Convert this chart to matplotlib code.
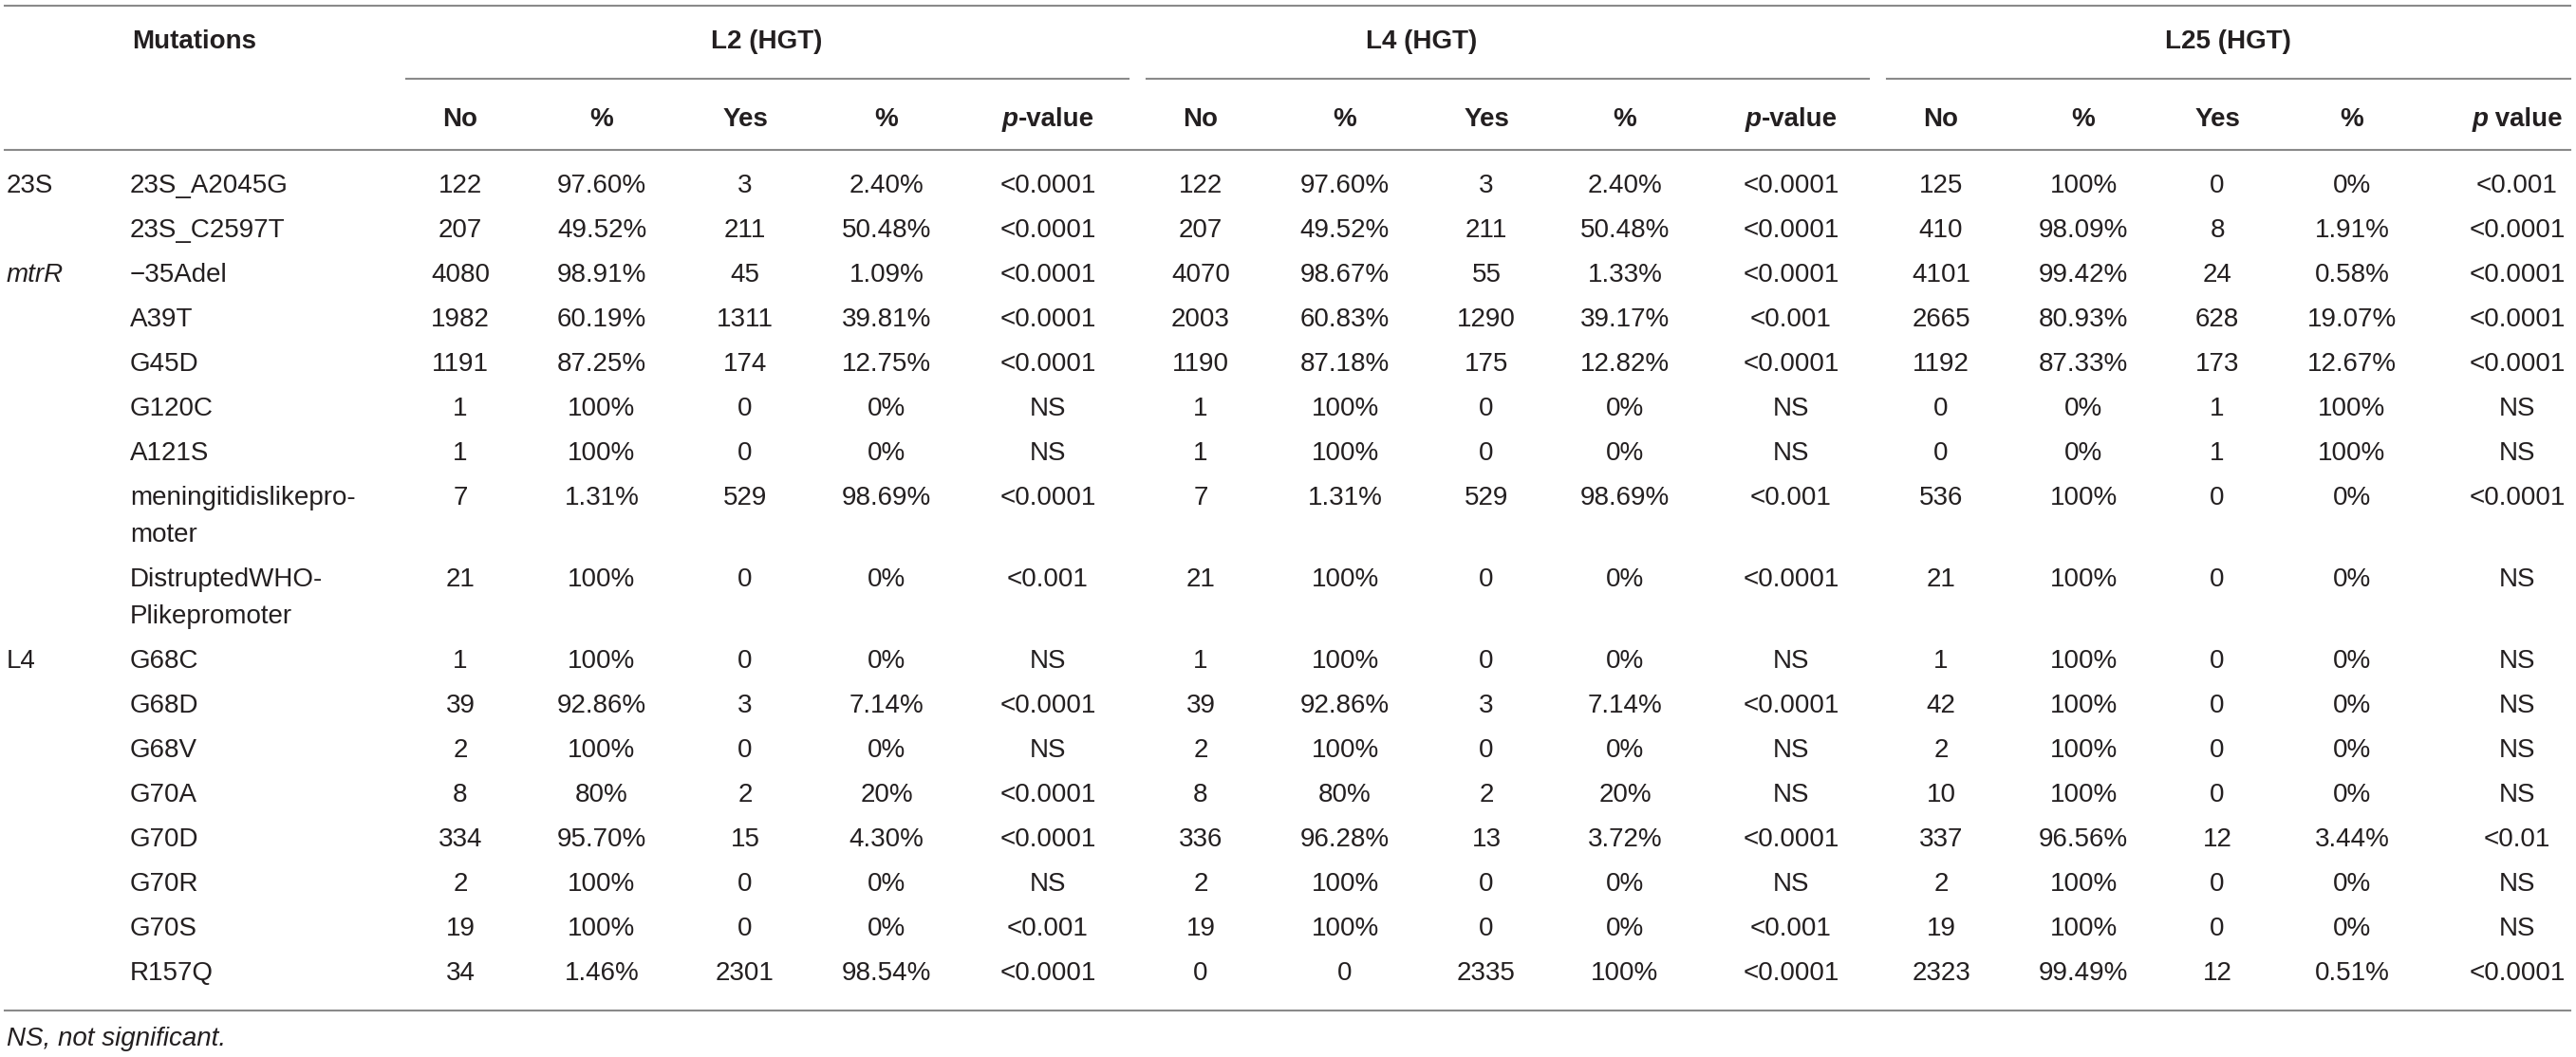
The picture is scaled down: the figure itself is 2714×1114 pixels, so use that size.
import matplotlib
matplotlib.use("Agg")
import matplotlib.pyplot as plt

# ---- table data ----
genes = ["23S", "", "mtrR", "", "", "", "", "", "", "L4", "", "", "", "", "", "", ""]
mutations = ["23S_A2045G", "23S_C2597T", "\u221235Adel", "A39T", "G45D", "G120C", "A121S",
             "meningitidislikepro-\nmoter", "DistruptedWHO-\nPlikepromoter",
             "G68C", "G68D", "G68V", "G70A", "G70D", "G70R", "G70S", "R157Q"]

groups = ["L2 (HGT)", "L4 (HGT)", "L25 (HGT)"]
sub_cols = ["No", "%", "Yes", "%", "p-value"]

l2_no = ["122", "207", "4080", "1982", "1191", "1", "1", "7", "21", "1", "39", "2", "8", "334", "2", "19", "34"]
l2_no_pct = ["97.60%", "49.52%", "98.91%", "60.19%", "87.25%", "100%", "100%", "1.31%", "100%",
             "100%", "92.86%", "100%", "80%", "95.70%", "100%", "100%", "1.46%"]
l2_yes = ["3", "211", "45", "1311", "174", "0", "0", "529", "0", "0", "3", "0", "2", "15", "0", "0", "2301"]
l2_yes_pct = ["2.40%", "50.48%", "1.09%", "39.81%", "12.75%", "0%", "0%", "98.69%", "0%",
              "0%", "7.14%", "0%", "20%", "4.30%", "0%", "0%", "98.54%"]
l2_p = ["<0.0001", "<0.0001", "<0.0001", "<0.0001", "<0.0001", "NS", "NS", "<0.0001", "<0.001",
        "NS", "<0.0001", "NS", "<0.0001", "<0.0001", "NS", "<0.001", "<0.0001"]

l4_no = ["122", "207", "4070", "2003", "1190", "1", "1", "7", "21", "1", "39", "2", "8", "336", "2", "19", "0"]
l4_no_pct = ["97.60%", "49.52%", "98.67%", "60.83%", "87.18%", "100%", "100%", "1.31%", "100%",
             "100%", "92.86%", "100%", "80%", "96.28%", "100%", "100%", "0"]
l4_yes = ["3", "211", "55", "1290", "175", "0", "0", "529", "0", "0", "3", "0", "2", "13", "0", "0", "2335"]
l4_yes_pct = ["2.40%", "50.48%", "1.33%", "39.17%", "12.82%", "0%", "0%", "98.69%", "0%",
              "0%", "7.14%", "0%", "20%", "3.72%", "0%", "0%", "100%"]
l4_p = ["<0.0001", "<0.0001", "<0.0001", "<0.001", "<0.0001", "NS", "NS", "<0.001", "<0.0001",
        "NS", "<0.0001", "NS", "NS", "<0.0001", "NS", "<0.001", "<0.0001"]

l25_no = ["125", "410", "4101", "2665", "1192", "0", "0", "536", "21", "1", "42", "2", "10", "337", "2", "19", "2323"]
l25_no_pct = ["100%", "98.09%", "99.42%", "80.93%", "87.33%", "0%", "0%", "100%", "100%",
              "100%", "100%", "100%", "100%", "96.56%", "100%", "100%", "99.49%"]
l25_yes = ["0", "8", "24", "628", "173", "1", "1", "0", "0", "0", "0", "0", "0", "12", "0", "0", "12"]
l25_yes_pct = ["0%", "1.91%", "0.58%", "19.07%", "12.67%", "100%", "100%", "0%", "0%",
               "0%", "0%", "0%", "0%", "3.44%", "0%", "0%", "0.51%"]
l25_p = ["<0.001", "<0.0001", "<0.0001", "<0.0001", "<0.0001", "NS", "NS", "<0.0001", "NS",
         "NS", "NS", "NS", "NS", "<0.01", "NS", "NS", "<0.0001"]

footnote = "NS, not significant."

group_data = [
    [l2_no, l2_no_pct, l2_yes, l2_yes_pct, l2_p],
    [l4_no, l4_no_pct, l4_yes, l4_yes_pct, l4_p],
    [l25_no, l25_no_pct, l25_yes, l25_yes_pct, l25_p],
]

# ---- layout (pixel coordinates) ----
W, H = 2714, 1114
col_x = [[485, 634, 785, 934, 1104],
         [1265, 1417, 1566, 1712, 1887],
         [2045, 2195, 2336, 2478, 2652]]
group_x = [808, 1498, 2347]
group_lines = [(428, 1189), (1208, 1969), (1988, 2708)]
gene_x, mut_x = 7, 137
row_step, wrap_step = 47, 39
first_row = 193
cap = 10  # half cap height, to centre digits on the row line

txt_color = "#231f20"
line_color = "#8a8a8a"
fs = 20

plt.rcParams["font.family"] = ["Liberation Sans", "DejaVu Sans"]

fig = plt.figure(figsize=(W / 100, H / 100), dpi=100)
ax = fig.add_axes([0, 0, 1, 1])
ax.set_xlim(0, W)
ax.set_ylim(H, 0)
ax.axis("off")
renderer = fig.canvas.get_renderer()


def mixed(x, y, parts, ha="center", **kw):
    # parts: list of (text, style); draws them side by side
    objs = []
    widths = []
    for s, style in parts:
        t = ax.text(0, y, s, fontstyle=style, va="baseline", ha="left", **kw)
        bb = t.get_window_extent(renderer)
        widths.append(bb.width)
        objs.append(t)
    total = sum(widths)
    start = x - total / 2 if ha == "center" else x - total
    for t, w in zip(objs, widths):
        t.set_x(start)
        start += w


# horizontal rules
ax.plot([5, 2708], [6, 6], color=line_color, lw=1.5)
for x0, x1 in group_lines:
    ax.plot([x0, x1], [83, 83], color=line_color, lw=1.5)
ax.plot([5, 2708], [158, 158], color=line_color, lw=1.5)
ax.plot([5, 2708], [1065, 1065], color=line_color, lw=1.5)

# header
ax.text(mut_x + 2, 41 + cap, "Mutations", fontsize=fs, fontweight="bold",
        color=txt_color, ha="left", va="baseline")
for gx, g in zip(group_x, groups):
    ax.text(gx, 41 + cap, g, fontsize=fs, fontweight="bold", color=txt_color,
            ha="center", va="baseline")
for gi in range(3):
    for ci, c in enumerate(sub_cols):
        x = col_x[gi][ci]
        if ci == 4:
            rest = "-value" if gi < 2 else " value"
            mixed(x, 123 + cap, [("p", "italic"), (rest, "normal")],
                  fontsize=fs, fontweight="bold", color=txt_color)
        else:
            ax.text(x, 123 + cap, c, fontsize=fs, fontweight="bold", color=txt_color,
                    ha="center", va="baseline")

# body
y = first_row
for i, m in enumerate(mutations):
    lines = m.split("\n")
    if genes[i]:
        ax.text(gene_x, y + cap, genes[i], fontsize=fs, color=txt_color,
                fontstyle="italic" if genes[i] == "mtrR" else "normal",
                ha="left", va="baseline")
    for k, ln in enumerate(lines):
        ax.text(mut_x, y + cap + k * wrap_step, ln, fontsize=fs, color=txt_color,
                ha="left", va="baseline")
    for gi in range(3):
        for ci in range(5):
            ax.text(col_x[gi][ci], y + cap, group_data[gi][ci][i], fontsize=fs,
                    color=txt_color, ha="center", va="baseline")
    y += row_step + (len(lines) - 1) * wrap_step

ax.text(gene_x, 1092 + cap, footnote, fontsize=fs, fontstyle="italic",
        color=txt_color, ha="left", va="baseline")

fig.savefig("out.png", dpi=100)
